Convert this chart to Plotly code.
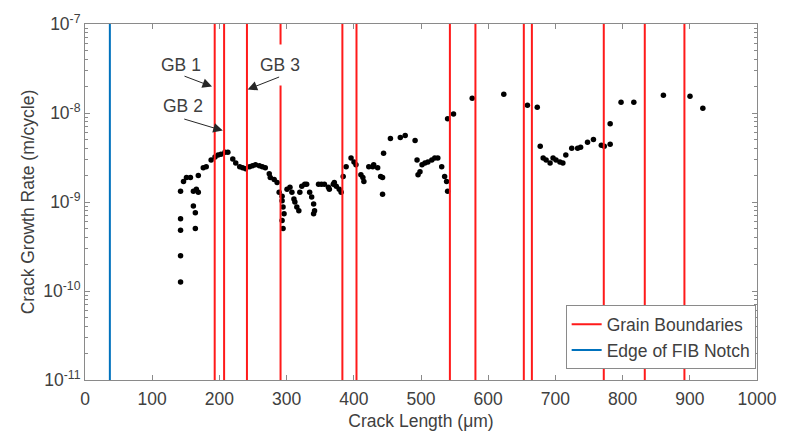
import math
import plotly.graph_objects as go

# Crack growth measurements: crack length (um) and growth rate (m/cycle)
crack_length = [
    142.2, 142.2, 142.2, 142.2, 142.2, 146.6, 151.0, 156.9, 161.3, 165.7,
    168.6, 161.3, 164.2, 164.2, 168.6, 176.0, 180.4, 187.7, 193.5, 198.0,
    202.3, 208.2, 212.6, 219.9, 224.3, 230.2, 234.6, 239.0, 244.9, 249.3,
    253.7, 259.5, 263.9, 268.3, 274.2, 275.7, 281.5, 285.9, 288.9, 293.3,
    293.3, 294.7, 296.2, 293.3, 294.7, 300.6, 305.0, 307.9, 310.9, 312.3,
    315.2, 318.2, 319.7, 322.6, 327.0, 329.9, 334.3, 337.3, 340.2, 341.6,
    340.2, 347.5, 351.9, 356.3, 362.2, 363.6, 369.5, 371.0, 373.9, 378.3,
    381.2, 384.2, 388.6, 395.9, 400.3, 403.2, 410.6, 413.5, 415.0, 422.3,
    428.2, 429.6, 435.5, 439.9, 442.8, 442.8, 444.3, 454.5, 469.2, 476.5,
    491.2, 494.1, 498.5, 495.6, 501.5, 505.9, 510.3, 516.1, 520.5, 525.0,
    530.8, 535.2, 538.1, 539.6, 539.6, 548.4, 576.2, 623.2, 658.4, 673.0,
    677.4, 681.8, 686.2, 692.1, 696.5, 700.9, 706.7, 711.1, 715.5, 724.3,
    733.1, 737.5, 747.8, 756.6, 768.3, 772.7, 781.5, 781.5, 797.7, 816.7,
    860.7, 900.3, 919.4,
]
growth_rate = [
    1.32e-9, 6.5e-10, 4.8e-10, 2.49e-10, 1.26e-10, 1.70e-9, 1.88e-9, 1.88e-9, 1.32e-9, 1.39e-9,
    1.29e-9, 9.04e-10, 7.57e-10, 5.05e-10, 1.98e-9, 2.43e-9, 2.49e-9, 2.97e-9, 3.20e-9, 3.37e-9,
    3.45e-9, 3.63e-9, 3.63e-9, 3.05e-9, 2.75e-9, 2.49e-9, 2.43e-9, 2.37e-9, 2.49e-9, 2.55e-9,
    2.62e-9, 2.55e-9, 2.49e-9, 2.43e-9, 2.08e-9, 1.88e-9, 1.79e-9, 1.66e-9, 1.29e-9, 1.16e-9,
    1.03e-9, 8.81e-10, 7.38e-10, 6.18e-10, 5.05e-10, 1.39e-9, 1.46e-9, 1.29e-9, 1.08e-9, 1.0e-9,
    8.81e-10, 7.97e-10, 1.29e-9, 1.50e-9, 1.58e-9, 1.58e-9, 1.29e-9, 1.14e-9, 9.5e-10, 7.97e-10,
    7.38e-10, 1.58e-9, 1.58e-9, 1.58e-9, 1.46e-9, 1.39e-9, 1.58e-9, 1.66e-9, 1.50e-9, 1.39e-9,
    1.29e-9, 1.93e-9, 2.49e-9, 3.12e-9, 2.82e-9, 2.62e-9, 2.03e-9, 1.88e-9, 1.70e-9, 2.49e-9,
    2.49e-9, 2.62e-9, 2.43e-9, 1.93e-9, 1.88e-9, 1.22e-9, 3.54e-9, 5.18e-9, 5.31e-9, 5.59e-9,
    4.92e-9, 2.97e-9, 2.19e-9, 2.03e-9, 2.62e-9, 2.75e-9, 2.82e-9, 2.97e-9, 3.12e-9, 3.12e-9,
    2.49e-9, 1.93e-9, 1.70e-9, 1.32e-9, 8.59e-9, 9.75e-9, 1.46e-8, 1.62e-8, 1.22e-8, 1.16e-8,
    4.23e-9, 3.12e-9, 2.97e-9, 2.75e-9, 3.12e-9, 2.97e-9, 2.82e-9, 2.75e-9, 3.37e-9, 4.02e-9,
    4.02e-9, 4.12e-9, 4.68e-9, 5.05e-9, 4.34e-9, 4.23e-9, 4.45e-9, 7.57e-9, 1.32e-8, 1.32e-8,
    1.58e-8, 1.54e-8, 1.13e-8,
]

# Grain boundary and notch edge locations (um)
grain_boundaries = [193, 207, 241, 291, 383, 404, 543, 581, 653, 665, 772, 833, 892]
notch_edge = [37]

# Labelled grain boundaries: label position and arrow tip (um, m/cycle)
gb_labels = ["GB 1", "GB 2", "GB 3"]
gb_label_x = [142.2, 145.2, 290.3]
gb_label_y = [3.45e-8, 1.19e-8, 3.45e-8]
gb_tip_x = [189, 205, 242]
gb_tip_y = [1.98e-8, 6.34e-9, 1.84e-8]
gb_tail_offset = [(-29, -11), (-40, -12), (33, -13)]

x_ticks = list(range(0, 1001, 100))
decades = [-11, -10, -9, -8, -7]
y_tick_vals = [10.0 ** d for d in decades]
y_tick_text = ["10<sup>%d</sup>" % d for d in decades]
y_minor_vals = [m * 10.0 ** d for d in decades[:-1] for m in range(2, 10)]
y_limits = [1e-11, 1e-7]

FONT = "Liberation Sans, Arial, sans-serif"
TEXT = "#404040"
AXIS = "#8a8a8a"
FS = 17.5


def vlines(xs):
    px, py = [], []
    for v in xs:
        px += [v, v, None]
        py += [y_limits[0], y_limits[1], None]
    return px, py


fig = go.Figure()

fig.add_trace(go.Scatter(
    x=crack_length, y=growth_rate, mode="markers",
    marker=dict(color="black", size=5.5),
    showlegend=False,
))

gx, gy = vlines(grain_boundaries)
fig.add_trace(go.Scatter(
    x=gx, y=gy, mode="lines", name="Grain Boundaries",
    line=dict(color="#ff1a1a", width=2),
))
nx, ny = vlines(notch_edge)
fig.add_trace(go.Scatter(
    x=nx, y=ny, mode="lines", name="Edge of FIB Notch",
    line=dict(color="#0072BD", width=2),
))

# Grain boundary labels (annotation y on a log axis is given as log10)
label_font = dict(family=FONT, size=FS, color=TEXT)
for i, txt in enumerate(gb_labels):
    extra = dict(bgcolor="white", borderpad=10) if txt == "GB 3" else {}
    fig.add_annotation(x=gb_label_x[i], y=math.log10(gb_label_y[i]), text=txt,
                       showarrow=False, font=label_font, **extra)
for i in range(len(gb_labels)):
    ax, ay = gb_tail_offset[i]
    fig.add_annotation(x=gb_tip_x[i], y=math.log10(gb_tip_y[i]), text="",
                       showarrow=True, ax=ax, ay=ay,
                       arrowhead=2, arrowsize=1.9, arrowwidth=1, arrowcolor="#262626")

axis_common = dict(
    showline=True, linecolor=AXIS, linewidth=1, mirror="allticks",
    ticks="inside", ticklen=5, tickcolor=AXIS, showgrid=False, zeroline=False,
    tickfont=dict(family=FONT, size=FS, color=TEXT),
)

fig.update_xaxes(
    range=[0, 1000], tickvals=x_ticks, ticklabelstandoff=3,
    title=dict(text="Crack Length (μm)", font=dict(family=FONT, size=FS, color=TEXT),
               standoff=6),
    **axis_common,
)
fig.update_yaxes(
    type="log", range=[-11, -7], tickvals=y_tick_vals, ticktext=y_tick_text,
    minor=dict(tickvals=y_minor_vals, ticks="inside", ticklen=3,
               tickcolor=AXIS, showgrid=False),
    title=dict(text="Crack Growth Rate (m/cycle)",
               font=dict(family=FONT, size=FS, color=TEXT), standoff=4),
    **axis_common,
)

fig.update_layout(
    width=789, height=439, autosize=False,
    margin=dict(l=85, r=22, t=16, b=59),
    plot_bgcolor="white", paper_bgcolor="white",
    font=dict(family=FONT, size=FS, color=TEXT),
    legend=dict(
        x=0.998, y=0.03, xanchor="right", yanchor="bottom",
        bgcolor="white", bordercolor=AXIS, borderwidth=1,
        font=dict(family=FONT, size=FS, color=TEXT),
        tracegroupgap=0,
    ),
)

fig.write_html("out.html")
